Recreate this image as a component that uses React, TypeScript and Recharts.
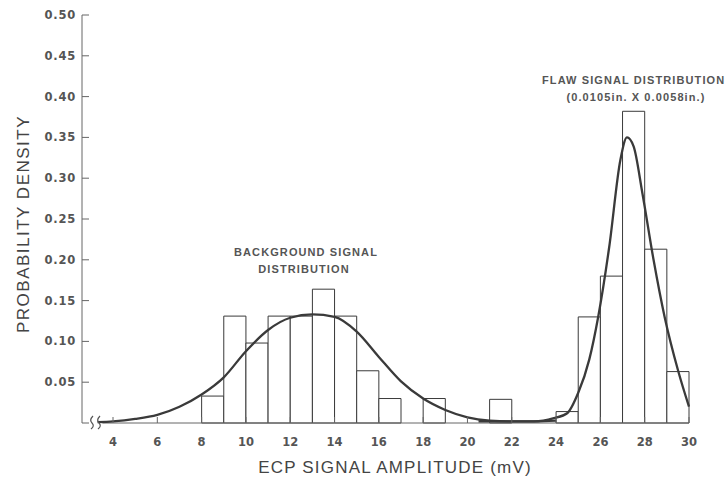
import React from "react";
import {
  ComposedChart,
  Line,
  XAxis,
  YAxis,
  ReferenceArea,
  ReferenceLine,
} from "recharts";

// histogram bins (left edge, width 1 mV) and densities
const binStarts = [8, 9, 10, 11, 12, 13, 14, 15, 16, 18, 21, 24, 25, 26, 27, 28, 29];
const binDensity = [
  0.033, 0.131, 0.098, 0.131, 0.131, 0.164, 0.131, 0.064, 0.03, 0.03, 0.029, 0.014,
  0.13, 0.18, 0.382, 0.213, 0.063,
];

// fitted background distribution curve
const bgX = [3.3, 4, 5, 6, 7, 8, 9, 10, 11, 12, 13, 14, 15, 16, 17, 18, 19, 20, 21, 22, 23, 24];
const bgY = [
  0.001, 0.002, 0.005, 0.01, 0.02, 0.035, 0.056, 0.088, 0.114, 0.129, 0.133, 0.13, 0.112,
  0.081, 0.051, 0.03, 0.016, 0.007, 0.003, 0.002, 0.002, 0.003,
];

// fitted flaw distribution curve
const flawX = [20.5, 22, 23, 23.9, 24.5, 25, 25.5, 25.9, 26.4, 26.9, 27.2, 27.5, 27.9, 28.4, 28.9, 29.5, 30];
const flawY = [
  0.002, 0.002, 0.002, 0.006, 0.012, 0.037, 0.078, 0.13, 0.216, 0.322, 0.35, 0.339, 0.281,
  0.2, 0.13, 0.065, 0.02,
];

const xTicks = [4, 6, 8, 10, 12, 14, 16, 18, 20, 22, 24, 26, 28, 30];
const yTicks = [0.05, 0.1, 0.15, 0.2, 0.25, 0.3, 0.35, 0.4, 0.45, 0.5];

const bgData = bgX.map((x, i) => ({ x, y: bgY[i] }));
const flawData = flawX.map((x, i) => ({ x, y: flawY[i] }));

const ink = "#3a3a3a";
const textColor = "#555";
const tickFont = { fontFamily: "DejaVu Sans", fontWeight: "bold" as const, fontSize: 11.5, fill: textColor };

const XTick = (props: any) => {
  const { x, y, payload } = props;
  return (
    <g>
      <line x1={x} x2={x} y1={y} y2={y - 6} stroke="#666" strokeWidth={1} />
      <text x={x} y={y + 19} dy="0.35em" textAnchor="middle" {...tickFont}>
        {payload.value}
      </text>
    </g>
  );
};

const YTick = (props: any) => {
  const { x, y, payload } = props;
  return (
    <g>
      <line x1={x} x2={x + 7} y1={y} y2={y} stroke="#666" strokeWidth={1} />
      <text x={x - 6} y={y} dy="0.35em" textAnchor="end" letterSpacing={0.8} {...tickFont}>
        {payload.value.toFixed(2)}
      </text>
    </g>
  );
};

const noteStyle = {
  fontFamily: "Liberation Sans, Arial",
  fontWeight: "bold" as const,
  fontSize: 11,
  fill: textColor,
  letterSpacing: 1.1,
};

const App = () => {
  return (
    <div style={{ position: "absolute", left: 0, top: 0, width: 728, height: 483, background: "#fff" }}>
      <ComposedChart width={728} height={483} margin={{ top: 15, right: 39, left: 0, bottom: 0 }}>
        <XAxis
          dataKey="x"
          type="number"
          domain={[2.6, 30]}
          ticks={xTicks}
          interval={0}
          height={60}
          axisLine={false}
          tickLine={false}
          tickSize={0}
          tickMargin={0}
          tick={<XTick />}
        />
        <YAxis
          type="number"
          domain={[0, 0.5]}
          ticks={yTicks}
          interval={0}
          width={82}
          axisLine={{ stroke: "#666", strokeWidth: 1 }}
          tickLine={false}
          tickSize={0}
          tickMargin={0}
          tick={<YTick />}
        />
        <ReferenceLine
          segment={[
            { x: 3.52, y: 0 },
            { x: 30, y: 0 },
          ]}
          stroke="#666"
          strokeWidth={1}
        />
        {binStarts.map((b, i) => (
          <ReferenceArea
            key={b}
            x1={b}
            x2={b + 1}
            y1={0}
            y2={binDensity[i]}
            fill="#fff"
            fillOpacity={1}
            stroke={ink}
            strokeWidth={1}
          />
        ))}
        <Line
          data={bgData}
          dataKey="y"
          type="monotone"
          stroke={ink}
          strokeWidth={2.3}
          dot={false}
          isAnimationActive={false}
        />
        <Line
          data={flawData}
          dataKey="y"
          type="monotone"
          stroke={ink}
          strokeWidth={2.3}
          dot={false}
          isAnimationActive={false}
        />
      </ComposedChart>
      <svg
        width={728}
        height={483}
        style={{ position: "absolute", left: 0, top: 0, pointerEvents: "none" }}
      >
        {/* axis break */}
        <path d="M82 423 H89" stroke="#666" strokeWidth={1} fill="none" />
        <path d="M93 416 Q89 420 92 423 Q95 426 91 429" stroke="#555" strokeWidth={1.2} fill="none" />
        <path d="M100 416 Q96 420 99 423 Q102 426 98 429" stroke="#555" strokeWidth={1.2} fill="none" />
        <text
          x={395}
          y={467}
          dy="0.35em"
          textAnchor="middle"
          fontFamily="Liberation Sans, Arial"
          fontSize={17}
          letterSpacing={1.2}
          fill="#444"
        >
          ECP SIGNAL AMPLITUDE (mV)
        </text>
        <text
          x={23}
          y={224}
          dy="0.35em"
          textAnchor="middle"
          transform="rotate(-90 23 224)"
          fontFamily="Liberation Sans, Arial"
          fontSize={17}
          letterSpacing={1.5}
          fill="#444"
        >
          PROBABILITY DENSITY
        </text>
        <text x={306} y={252} dy="0.35em" textAnchor="middle" {...noteStyle}>
          BACKGROUND SIGNAL
        </text>
        <text x={304} y={269} dy="0.35em" textAnchor="middle" {...noteStyle}>
          DISTRIBUTION
        </text>
        <text x={542} y={80} dy="0.35em" {...noteStyle}>
          FLAW SIGNAL DISTRIBUTION
        </text>
        <text x={636} y={97} dy="0.35em" textAnchor="middle" {...noteStyle}>
          (0.0105in. X 0.0058in.)
        </text>
      </svg>
    </div>
  );
};

export default App;
